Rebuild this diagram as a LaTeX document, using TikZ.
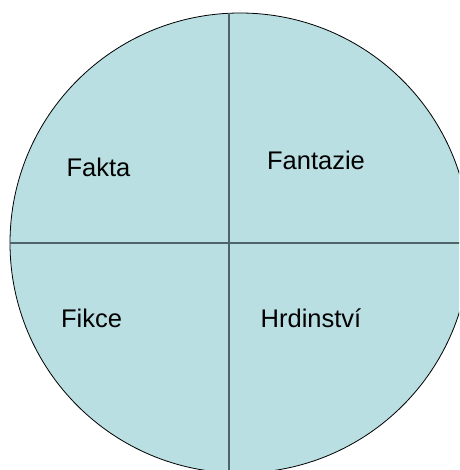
\documentclass[tikz,border=0pt]{standalone}
\usepackage{fontspec}
\setmainfont{Liberation Sans}
\usepackage{xcolor}
\definecolor{cFill}{HTML}{B9DFE2}
\definecolor{cRule}{HTML}{4F6468}
\usetikzlibrary{calc}
\tikzset{
  wheel/.style={draw=black,line width=0.8pt,fill=cFill},
  wheel-rule/.style={draw=cRule,line width=1.4pt},
  quad-label/.style={anchor=base,inner sep=0pt,font=\fontsize{25.5}{30}\selectfont},
}
\begin{document}
\begin{tikzpicture}[x=1pt,y=-1pt]
  \useasboundingbox (0,0) rectangle (459,470);
  \begin{scope}
    \clip (0,0) rectangle (459,470);
    \coordinate (mid) at (240,243);
    \draw[wheel] (mid) circle[radius=230];
    % cross lines
    \coordinate (top) at (229,13.3);
    \coordinate (bot) at (229,480);
    \coordinate (lft) at (10,243);
    \coordinate (rgt) at (470,243);
    \draw[wheel-rule] (top) -- (bot);
    \draw[wheel-rule] (lft) -- (rgt);
  \end{scope}
  \node[quad-label] (fakta) at (98.5,176) {Fakta};
  \node[quad-label] (fantazie) at (316,170) {Fantazie};
  \node[quad-label] (fikce) at (91.5,327) {Fikce};
  \node[quad-label] (hrdinstvi) at (311,327) {Hrdinství};
\end{tikzpicture}
\end{document}
